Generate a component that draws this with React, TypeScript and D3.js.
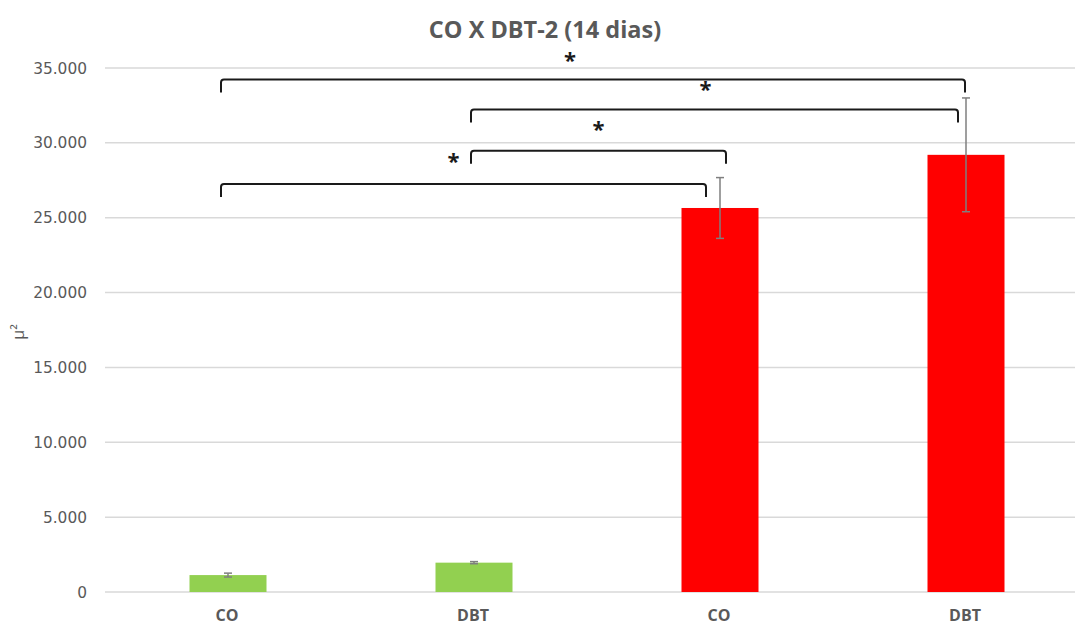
import React from 'react';
import { scaleBand, scaleLinear } from 'd3';

const categories = ['CO', 'DBT', 'CO', 'DBT'];
const values = [1130, 1960, 25650, 29200];
const errors = [130, 70, 2030, 3800];
const barColors = ['#92d050', '#92d050', '#ff0000', '#ff0000'];
const yTicks = [0, 5000, 10000, 15000, 20000, 25000, 30000, 35000];

// significance brackets: from / to category index, height in y units, small px nudges
const bracketFrom = [0, 1, 1, 0];
const bracketTo = [3, 3, 2, 2];
const bracketLevel = [34230, 32230, 29470, 27250];
const bracketDx1 = [-7, -3, -3, -7];
const bracketDx2 = [-1, -8, 6, -14];
const starDx = [-23, -9, 0, -10];
const starDy = [-27, -28, -29, -30];

const W = 1075;
const H = 626;
const margin = { top: 68, right: -14, bottom: 34, left: 105 };

function fmt(v: number) {
  if (v === 0) return '0';
  const s = String(v);
  return s.slice(0, s.length - 3) + '.' + s.slice(s.length - 3);
}

export default function App() {
  const x = scaleBand<number>()
    .domain(categories.map((_, i) => i))
    .range([margin.left, W - margin.right])
    .padding(0);
  const y = scaleLinear()
    .domain([0, 35000])
    .range([H - margin.bottom, margin.top]);

  const bw = x.bandwidth() * 0.313;
  const cx = (i: number) => (x(i) as number) + x.bandwidth() / 2;
  const tickLen = y(0) - y(870);
  const r = 3;

  return (
    <svg
      width={W}
      height={H}
      style={{ position: 'absolute', left: 0, top: 0, background: '#fff' }}
      fontFamily="'Open Sans', 'Noto Sans', sans-serif"
    >
      <text
        x={545}
        y={38}
        textAnchor="middle"
        fontSize={23.5}
        fontWeight="bold"
        fill="#595959"
      >
        CO X DBT-2 (14 dias)
      </text>

      {yTicks.map(t => (
        <g key={t}>
          <line
            x1={margin.left}
            x2={W - margin.right}
            y1={y(t)}
            y2={y(t)}
            stroke="#d9d9d9"
            strokeWidth={1.5}
          />
          <text
            x={87}
            y={y(t)}
            dy="0.36em"
            textAnchor="end"
            fontSize={15.4}
            fontFamily="'DejaVu Sans', sans-serif"
            fill="#595959"
          >
            {fmt(t)}
          </text>
        </g>
      ))}

      <text
        transform={`translate(24,${(y(0) + y(35000)) / 2 + 2}) rotate(-90)`}
        textAnchor="middle"
        fontSize={16}
        fill="#595959"
      >
        μ²
      </text>

      {values.map((v, i) => (
        <rect
          key={i}
          x={cx(i) - bw / 2}
          y={y(v)}
          width={bw}
          height={y(0) - y(v)}
          fill={barColors[i]}
        />
      ))}

      {values.map((v, i) => (
        <g key={'e' + i} stroke="#7f7f7f" strokeWidth={1.5}>
          <line x1={cx(i)} x2={cx(i)} y1={y(v + errors[i])} y2={y(v - errors[i])} />
          <line x1={cx(i) - 4} x2={cx(i) + 4} y1={y(v + errors[i])} y2={y(v + errors[i])} />
          <line x1={cx(i) - 4} x2={cx(i) + 4} y1={y(v - errors[i])} y2={y(v - errors[i])} />
        </g>
      ))}

      {categories.map((c, i) => (
        <text
          key={'c' + i}
          x={cx(i) - 1}
          y={621}
          textAnchor="middle"
          fontSize={16}
          fontWeight="bold"
          fill="#595959"
        >
          {c}
        </text>
      ))}

      {bracketLevel.map((lv, i) => {
        const x1 = cx(bracketFrom[i]) + bracketDx1[i];
        const x2 = cx(bracketTo[i]) + bracketDx2[i];
        const yy = y(lv);
        const d = `M${x1},${yy + tickLen} L${x1},${yy + r} Q${x1},${yy} ${x1 + r},${yy} L${x2 - r},${yy} Q${x2},${yy} ${x2},${yy + r} L${x2},${yy + tickLen}`;
        return (
          <g key={'b' + i}>
            <path d={d} fill="none" stroke="#1a1a1a" strokeWidth={2} />
            <text
              x={(x1 + x2) / 2 + starDx[i]}
              y={yy + starDy[i]}
              dy="0.7em"
              textAnchor="middle"
              fontSize={22}
              fontWeight="bold"
              fill="#1a1a1a"
            >
              *
            </text>
          </g>
        );
      })}
    </svg>
  );
}
